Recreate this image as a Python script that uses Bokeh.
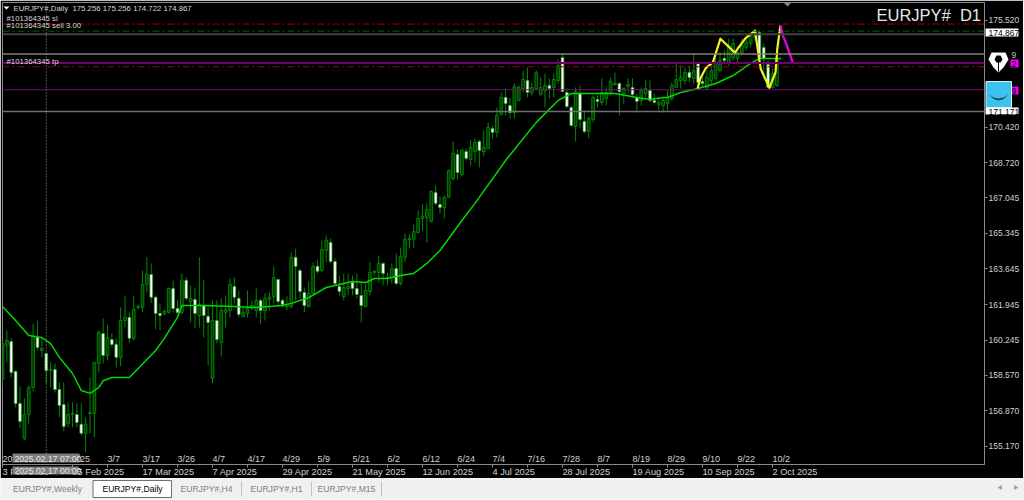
from bokeh.plotting import figure
from bokeh.layouts import column
from bokeh.embed import file_html
from bokeh.resources import INLINE
from bokeh.core.properties import value
from bokeh.models import ColumnDataSource, FixedTicker, Span, Range1d

# ---------------- data (prices) ----------------
bar_styles = ["D","D","W","W","W","D","D","D","W","D","W","D","W","W","W","D","D","W","W","D",
"D","D","D","W","D","W","W","D","D","W","D","D","D","D","W","W","W","D","D","W",
"W","D","W","D","W","D","W","W","D","W","D","D","D","W","W","D","D","D","D","W",
"D","D","D","W","W","D","D","W","W","W","D","D","W","D","D","W","W","W","D","D",
"W","W","W","D","D","D","D","W","D","D","W","D","D","D","D","D","D","D","D","W",
"W","D","D","D","W","D","W","D","D","W","D","D","W","D","D","W","W","D","D","D",
"W","D","D","D","D","W","D","D","W","W","W","D","W","W","D","D","W","D","D","D",
"D","W","D","D","W","W","D","D","W","W","D","D","D","D","D","D","D","W","D","W",
"W","D","D","D","D","W","D","D","D","D","D","D","D","W","W","W","D","D"]
highs = [160.23,160.71,160.33,158.79,158.03,157.46,158.08,161.04,161.18,160.37,159.66,159.18,159.13,158.22,158.22,157.27,157.27,157.22,157.22,156.55,
158.46,159.18,160.71,161.28,160.95,160.56,160.33,161.81,162.38,161.57,162.33,161.95,163.57,164.20,163.91,162.38,162.00,161.71,162.76,163.10,
162.14,163.43,163.24,162.86,162.76,164.20,163.10,161.81,162.14,162.14,162.24,162.38,163.19,163.24,162.62,161.81,162.62,162.14,162.71,162.24,
162.48,162.52,163.77,163.19,162.24,162.33,164.43,164.62,163.67,162.76,163.05,163.96,164.05,165.01,165.25,165.10,164.15,163.33,163.43,163.43,
163.33,163.43,163.00,162.95,163.96,163.57,164.29,163.96,163.48,163.91,164.39,164.67,165.34,165.34,165.77,166.44,166.73,166.78,167.40,167.64,
167.11,167.16,168.40,169.74,169.36,169.40,169.40,169.83,169.88,169.83,170.26,170.65,170.50,171.36,172.08,172.27,171.84,172.51,172.41,173.13,
173.27,172.56,173.13,172.80,172.99,172.75,172.99,173.66,173.94,172.27,171.46,172.32,172.41,171.22,170.93,171.94,171.94,172.75,172.32,172.80,
173.03,172.56,172.32,172.75,172.75,172.03,172.32,172.70,172.65,172.03,171.79,171.84,172.18,172.56,173.47,173.37,173.27,173.37,173.94,173.51,
172.99,173.13,173.37,173.80,173.99,174.09,174.66,174.66,174.28,174.66,174.71,174.90,175.04,175.04,174.42,173.61,173.23,174.18]
body_tops = [160.09,160.23,160.18,158.75,157.22,156.69,157.98,160.42,160.37,159.85,159.61,158.84,158.84,157.89,157.17,156.69,156.74,156.69,156.22,156.22,
156.79,159.18,160.61,160.56,160.37,160.27,160.04,161.18,161.33,161.33,161.71,161.85,162.91,163.38,163.38,162.29,161.52,161.62,162.71,162.71,
161.76,163.10,163.10,162.24,162.19,161.95,161.90,161.38,161.18,161.18,161.66,161.71,162.91,162.81,162.24,161.57,161.76,161.90,162.14,162.14,
162.24,162.29,163.24,163.14,162.14,161.95,164.20,164.20,163.57,162.52,162.48,163.77,163.77,164.57,165.01,164.91,164.00,162.81,162.76,162.81,
163.00,162.71,162.38,162.62,163.48,163.53,163.91,163.91,163.24,163.67,163.67,164.24,165.06,165.10,165.43,166.06,166.15,166.49,167.35,167.30,
166.73,167.06,168.35,169.17,169.12,169.31,169.26,169.45,169.69,169.74,169.45,170.41,170.36,170.98,171.84,171.84,171.46,172.37,172.32,172.70,
172.65,172.32,173.03,172.32,172.41,172.41,172.70,173.37,173.75,172.08,171.36,172.13,172.03,170.69,170.84,171.84,171.74,172.08,172.08,172.60,
172.51,172.51,172.27,172.46,172.32,171.84,172.18,172.27,172.18,171.70,171.60,171.70,171.84,172.41,172.70,172.80,173.03,173.03,173.13,173.47,
172.60,172.80,173.13,173.51,173.61,173.70,174.33,174.42,173.99,174.33,174.47,174.80,174.95,174.95,174.23,173.42,172.99,173.70]
body_bottoms = [158.37,159.99,158.70,157.22,156.36,155.55,156.69,157.98,159.89,159.75,158.79,158.79,157.89,157.12,156.12,156.26,156.69,156.31,155.79,155.79,
156.74,156.74,159.13,159.51,159.51,160.04,159.42,159.42,161.18,160.33,160.33,161.81,161.81,162.91,162.29,161.52,161.42,161.52,161.57,161.76,
161.57,161.57,162.24,162.09,161.52,161.42,161.42,161.09,158.41,160.27,160.13,161.57,161.66,162.29,161.47,161.38,161.52,161.76,161.66,161.66,
161.66,162.19,162.33,162.09,161.95,161.85,161.85,163.77,162.57,161.90,161.85,162.48,163.53,163.57,164.53,164.00,162.95,162.57,162.33,162.71,
162.71,162.43,161.90,161.85,162.57,163.48,163.48,163.43,163.19,163.24,162.95,162.95,164.20,165.06,165.06,165.39,166.06,166.11,165.92,166.78,
166.58,166.58,167.06,167.97,168.26,168.16,168.93,168.88,169.26,169.31,169.26,169.40,170.17,170.17,171.03,171.55,171.12,171.12,171.70,172.27,
172.08,172.08,172.27,171.98,172.18,172.27,172.32,172.65,172.13,171.41,170.50,170.45,170.79,170.22,170.22,170.79,171.65,171.60,171.79,172.03,
172.46,172.13,172.03,172.37,171.98,171.65,171.70,172.03,171.70,171.60,171.51,171.46,171.55,171.79,172.32,172.65,172.65,172.80,172.75,172.56,
172.51,172.32,172.65,172.75,173.13,173.61,173.47,173.75,173.70,173.99,174.23,174.42,174.71,173.70,173.70,172.32,172.32,172.41]
lows = [157.98,159.18,158.46,157.03,156.03,155.45,156.26,157.79,159.75,159.42,158.18,157.98,157.74,156.55,155.88,156.07,156.07,156.07,155.69,154.88,
155.79,155.60,158.70,159.13,159.27,159.89,158.94,158.99,160.85,160.09,160.23,161.71,161.57,162.52,162.04,160.76,160.71,161.42,161.52,161.57,
161.52,161.47,162.14,161.09,160.80,160.85,160.37,159.03,158.18,160.09,159.46,160.85,161.33,162.00,161.33,161.33,161.33,161.66,161.33,161.04,
161.18,161.66,162.00,161.90,161.81,161.66,161.76,162.14,162.24,161.57,161.81,162.38,163.43,163.48,163.96,163.91,162.86,162.38,162.14,162.38,
162.38,162.24,161.09,161.85,162.38,163.33,163.00,162.86,162.86,162.95,162.86,162.86,163.96,164.62,164.67,165.34,165.49,164.91,165.87,166.68,
166.30,166.06,167.06,167.88,167.92,168.07,168.83,168.59,168.73,168.50,169.02,169.36,169.88,169.93,170.98,170.98,170.84,170.84,171.65,172.08,
171.84,171.94,172.22,171.94,171.36,171.79,171.84,172.51,172.08,171.32,170.45,169.74,170.36,170.12,169.88,170.65,171.36,171.46,171.46,171.94,
172.41,170.98,171.55,172.08,171.84,171.12,171.46,171.84,171.60,171.55,171.22,171.12,171.22,171.70,172.32,172.27,172.46,172.56,172.51,172.27,
172.37,172.18,172.41,172.65,173.03,173.47,173.37,173.61,173.51,173.85,174.09,174.23,174.56,173.51,172.75,172.27,172.27,172.37]

ma_bars = [0,3,6,9,11,13,16,18,20,22,23,25,29,31,35,37,40,41,46,53,58,64,66,70,74,80,83,85,88,91,94,97,100,105,108,115,122,127,130,131,133,140,145,148,151,152,155,159,163,167,171,173,178]
ma_prices = [161.85,161.18,160.47,160.37,160.08,159.42,158.65,157.84,157.70,157.98,158.30,158.46,158.46,158.89,159.75,160.33,161.33,161.90,161.90,161.85,161.80,161.90,162.00,162.28,162.76,163.05,163.00,163.19,163.19,163.33,163.43,163.91,164.53,165.96,166.78,168.83,170.65,171.70,172.03,172.03,172.03,172.03,171.84,171.74,171.84,171.84,172.08,172.27,172.51,172.89,173.47,173.70,173.70]

yellow_bars = [158.9,159.5,160.7,162.4,164.1,167.4,169.8,172.0,173.3,175.3,176.7,177.1,177.8]
yellow_prices = [172.28,172.75,173.23,173.53,174.65,173.98,174.67,175.04,173.21,172.30,173.05,174.17,175.28]
magenta_bars = [177.8,178.4,179.3,180.6]
magenta_prices = [175.28,174.80,174.32,173.53]

price_ticks = [175.520,170.420,168.720,167.045,165.345,163.645,161.945,160.245,158.570,156.870,155.170]
date_tick_bars = [0,16,32,48,64,80,96,112,128,144,160,176]
date_tick_labels = ["3 Feb 2025","25 Feb 2025","17 Mar 2025","7 Apr 2025","29 Apr 2025","21 May 2025","12 Jun 2025","4 Jul 2025","28 Jul 2025","19 Aug 2025","10 Sep 2025","2 Oct 2025"]
short_tick_bars = [0,16,24,32,40,48,56,64,72,80,88,96,104,112,120,128,136,144,152,160,168,176]
short_tick_labels = ["2025.02.03","2/25","3/7","3/17","3/26","4/7","4/17","4/29","5/9","5/21","6/2","6/12","6/24","7/4","7/16","7/28","8/7","8/19","8/29","9/10","9/22","10/2"]

sl_price, sell_price, bid_price, res_high, res_mid, tp_price, res_low, sup_price = 175.35,175.01,174.867,173.92,173.49,173.31,172.21,171.171
tab_names = ["EURJPY#,Weekly","EURJPY#,Daily","EURJPY#,H4","EURJPY#,H1","EURJPY#,M15"]
tab_centers = [47,132,206,276,346]

# ---------------- chart ----------------
FONT = "Liberation Sans"
p = figure(width=1024, height=479, output_backend="svg", toolbar_location=None,
           x_range=Range1d(0, 224.46), y_range=Range1d(154.30, 176.38),
           y_axis_location="right", background_fill_color="black", border_fill_color="black",
           min_border_left=2, min_border_right=39, min_border_top=2, min_border_bottom=14,
           frame_align=False)
p.frame_width = 982
p.frame_height = 462
p.grid.visible = False
p.outline_line_color = "#8a8a8a"
p.outline_line_width = 1

ax = p.yaxis[0]
ax.ticker = FixedTicker(ticks=price_ticks)
ax.major_label_overrides = {t: f"{t:.3f}" for t in price_ticks}
ax.major_label_text_color = "#d0d0d0"
ax.major_label_text_font = FONT
ax.major_label_text_font_size = "8.5px"
ax.axis_line_color = "#8a8a8a"
ax.major_tick_line_color = "#8a8a8a"
ax.major_tick_out = 3
ax.major_tick_in = 0
ax.minor_tick_line_color = None
ax.major_label_standoff = 1

bx = p.xaxis[0]
bx.ticker = FixedTicker(ticks=short_tick_bars)
bx.major_label_text_font_size = "0px"
bx.major_label_text_color = None
bx.axis_line_color = "#8a8a8a"
bx.major_tick_line_color = "#8a8a8a"
bx.major_tick_out = 3
bx.major_tick_in = 0
bx.minor_tick_line_color = None

# horizontal levels
def hline(v, color, w=1, dash="solid"):
    p.add_layout(Span(location=v, dimension="width", line_color=color, line_width=w, line_dash=dash))
hline(sl_price, "#a00000", 1, "7 3 2 3")
hline(sell_price, "#006400", 1, "7 3 2 3")
hline(bid_price, "#404040", 2)
hline(res_high, "#808080", 1.5)
hline(res_mid, "#700070", 2)
hline(tp_price, "#a00000", 1, "7 3 2 3")
hline(res_low, "#800080", 1)
hline(sup_price, "#707070", 1.5)
p.add_layout(Span(location=10, dimension="height", line_color="#a0a0a0", line_width=1, line_dash="1 2"))

# candles
idx = list(range(len(highs)))
src_w = ColumnDataSource(dict(
    x=[i for i in idx if bar_styles[i] == "W"],
    t=[body_tops[i] for i in idx if bar_styles[i] == "W"],
    b=[body_bottoms[i] for i in idx if bar_styles[i] == "W"]))
src_d = ColumnDataSource(dict(
    x=[i for i in idx if bar_styles[i] == "D"],
    t=[body_tops[i] for i in idx if bar_styles[i] == "D"],
    b=[body_bottoms[i] for i in idx if bar_styles[i] == "D"]))
p.segment(x0=idx, y0=lows, x1=idx, y1=highs, line_color="#008a00", line_width=1)
p.vbar(x="x", top="t", bottom="b", width=0.62, source=src_d,
       fill_color="#033a03", line_color="#008a00", line_width=0.9)
p.vbar(x="x", top="t", bottom="b", width=0.62, source=src_w,
       fill_color="#ffffff", line_color="#2aa02a", line_width=0.7)

p.line(ma_bars, ma_prices, line_color="#00d800", line_width=1.5)
p.line(yellow_bars, yellow_prices, line_color="#f5f020", line_width=2.2, line_join="round")
p.line(magenta_bars, magenta_prices, line_color="#e800e8", line_width=2.2)

# ---------------- transparent overlay: texts and icons over the whole chart area ----------------
o = figure(width=1024, height=479, output_backend="svg", toolbar_location=None,
           x_range=Range1d(0, 1024), y_range=Range1d(479, 0), min_border=0,
           background_fill_color=None, border_fill_color=None, outline_line_color=None,
           margin=(-479, 0, 0, 0), frame_align=False)
o.axis.visible = False
o.grid.visible = False
o.extra_x_ranges = {"bars": Range1d(-2 / 4.375, 1022 / 4.375)}

def otext(txt, x, y, color="#d8d8d8", size="7.8px"):
    o.text(x=[x], y=[y], text=[txt], text_color=color, text_font=value(FONT), text_font_size=size,
           text_align="left", text_baseline="middle")

def obox(l, r, t, b, fill, line=None, w=1):
    o.quad(left=[l], right=[r], top=[t], bottom=[b], fill_color=fill, line_color=line, line_width=w)

def opoly(xs, ys, fill):
    o.patch(xs, ys, fill_color=fill, line_color=None)

o.text(x=short_tick_bars, y=[459] * len(short_tick_bars), text=short_tick_labels, x_range_name="bars",
       text_color="#d0d0d0", text_font=value(FONT), text_font_size="9px", text_align="left", text_baseline="middle")
o.text(x=date_tick_bars, y=[472] * len(date_tick_bars), text=date_tick_labels, x_range_name="bars",
       text_color="#d0d0d0", text_font=value(FONT), text_font_size="9.2px", text_align="left", text_baseline="middle")

# header and order labels
opoly([3, 9, 6], [7, 7, 10], "#ffffff")
otext("EURJPY#,Daily\u00a0 175.256 175.256 174.722 174.867", 13, 9)
otext("#101364345 sl", 6, 19)
otext("#101364345 sell 3.00", 6, 26)
otext("#101364345 tp", 6, 62)
otext("EURJPY#\u00a0 D1", 876, 15, "#e8e8e8", "16.5px")
opoly([783, 791, 787], [3, 3, 7], "#7d8a96")

# crosshair date boxes
obox(12, 79, 454, 463, "#7d7d7d")
otext("2025.02.17 07:00", 14, 459, "#e8e8e8", "8.6px")
obox(12, 78, 467, 475, "#7d7d7d")
otext("2025.02.17 00:00", 14, 471, "#e8e8e8", "8.6px")

# price tags
obox(985, 1018, 29, 37, "#ffffff")
otext("174.867", 988, 33, "#000000", "8.5px")
obox(985, 1018, 108, 115, "#ffffff")
otext("171.171", 988, 112, "#000000", "8.5px")
otext("9", 1011, 55, "#c0c0c0", "8.5px")
obox(1010, 1018, 60, 68, "#f000f0")
otext("2", 1011, 64, "#000000", "8.5px")
obox(1010, 1018, 87, 95, "#f000f0")
otext("9", 1011, 91, "#000000", "8.5px")

# pen-nib and smile icons
obox(985, 1009, 50, 74, "#000000")
opoly([991, 1005, 1008, 1003, 998, 993, 988], [53, 53, 60, 68, 73, 68, 60], "#ffffff")
opoly([996, 1000, 1002, 1000, 996, 994], [56, 56, 60, 63, 63, 60], "#000000")
opoly([997.5, 998.5, 998.5, 997.5], [62, 62, 72, 72], "#000000")
obox(985.5, 1011, 82, 108, "#3bc3ee", "#d8f2fb", 1)
opoly([989, 993, 998, 1003, 1008, 1003, 998, 993], [95, 98, 99, 98, 95, 99.5, 101, 99.5], "#1a4a5a")

# ---------------- tab bar ----------------
t = figure(width=1024, height=21, output_backend="svg", toolbar_location=None,
           x_range=Range1d(0, 1024), y_range=Range1d(21, 0), background_fill_color="#f0f0f0",
           border_fill_color="#f0f0f0", min_border=0, outline_line_color=None, frame_align=False)
t.axis.visible = False
t.grid.visible = False
t.quad(left=[92.5], right=[171], top=[2], bottom=[19], fill_color="#ffffff", line_color="#707070")
t.segment(x0=[241, 311, 381], y0=[3, 3, 3], x1=[241, 311, 381], y1=[18, 18, 18], line_color="#c0c0c0")
colors = ["#000000" if n.endswith("Daily") else "#808080" for n in tab_names]
t.text(x=tab_centers, y=[10.5] * 5, text=tab_names, text_color=colors, text_align="center",
       text_baseline="middle", text_font_size="8.6px", text_font=value(FONT))
t.scatter(x=[1000], y=[9], marker="triangle", size=5, fill_color="#a0a0a0", line_color=None, angle=1.5708)
t.scatter(x=[1015], y=[9], marker="triangle", size=5, fill_color="#a0a0a0", line_color=None, angle=-1.5708)

page = column(p, o, t, spacing=0, margin=0)
open("out.html", "w").write(file_html(page, INLINE))
